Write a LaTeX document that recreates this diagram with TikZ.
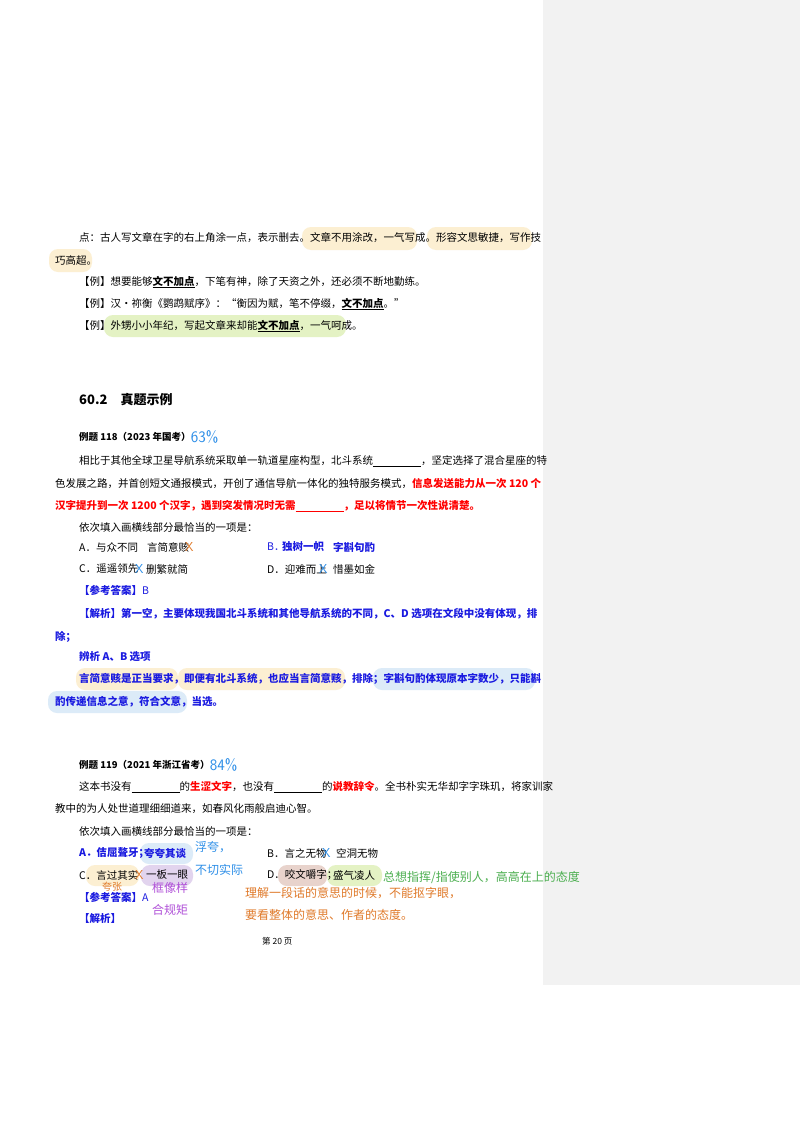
\documentclass[tikz,border=0pt]{standalone}
\usepackage{fontspec}
\setmainfont{Liberation Serif}
\newfontfamily\cjk{Noto Sans CJK SC}
\definecolor{hlorange}{HTML}{FCEFD2}
\definecolor{hlgreen}{HTML}{E4F2C4}
\definecolor{hlblue}{HTML}{DCEBF8}
\definecolor{hlpurple}{HTML}{E2D4EE}
\definecolor{hlbrown}{HTML}{E8D3CC}
\definecolor{ansblue}{HTML}{1A1AE0}
\definecolor{penblue}{HTML}{2E8FE8}
\definecolor{penorange}{HTML}{E07A2A}
\definecolor{pengreen}{HTML}{4CAF50}
\definecolor{penpurple}{HTML}{B050D8}
\definecolor{panel}{HTML}{F2F2F2}
\tikzset{
	line/.style={anchor=west,inner sep=0pt,font=\cjk\fontsize{10.5}{12}\selectfont},
	redline/.style={line,text=red,font=\cjk\bfseries\fontsize{10.5}{12}\selectfont},
	blueline/.style={line,text=ansblue,font=\cjk\bfseries\fontsize{10.5}{12}\selectfont},
	bold line/.style={line,font=\cjk\bfseries\fontsize{10.5}{12}\selectfont},
	hl/.style={fill=#1,rounded corners=9pt},
	pen/.style={anchor=west,inner sep=0pt,text=#1,font=\cjk\fontsize{12}{14}\selectfont},
	mark/.style={anchor=west,inner sep=0pt,text=#1,font=\sffamily\fontsize{13}{14}\selectfont}
}
\newcommand{\blank}{\underline{\hspace{48pt}}}
\begin{document}
\begin{tikzpicture}[x=1pt,y=-1pt]
	\useasboundingbox (0,0) rectangle (800,1132);
	\fill[white] (0,0) rectangle (800,1132);
	\fill[panel] (543,0) rectangle (800,985);
	% highlights
	\fill[hl=hlorange] (302,227) rectangle (417,250);
	\fill[hl=hlorange] (427,227) rectangle (532,250);
	\fill[hl=hlorange] (49,249) rectangle (92,272);
	\fill[hl=hlgreen] (104,315) rectangle (346,337);
	\fill[hl=hlorange] (76,668) rectangle (178,690);
	\fill[hl=hlorange] (178,668) rectangle (345,690);
	\fill[hl=hlblue] (373,668) rectangle (535,690);
	\fill[hl=hlblue] (48,691) rectangle (187,713);
	\fill[hl=hlblue] (140,843) rectangle (193,864);
	\fill[hl=hlorange] (86,865) rectangle (139,886);
	\fill[hl=hlpurple] (141,865) rectangle (193,886);
	\fill[hl=hlbrown] (278,865) rectangle (327,886);
	\fill[hl=hlgreen] (327,865) rectangle (382,886);
	% section one
	\node[line] (p1) at (79,238) {点：古人写文章在字的右上角涂一点，表示删去。文章不用涂改，一气写成。形容文思敏捷，写作技};
	\node[line] (p2) at (55,260) {巧高超。};
	\node[line] (e1) at (79,282) {【例】想要能够\textbf{\underline{文不加点}}，下笔有神，除了天资之外，还必须不断地勤练。};
	\node[line] (e2) at (79,304) {【例】汉·祢衡《鹦鹉赋序》：“衡因为赋，笔不停缀，\textbf{\underline{文不加点}}。”};
	\node[line] (e3) at (79,326) {【例】外甥小小年纪，写起文章来却能\textbf{\underline{文不加点}}，一气呵成。};
	\node[bold line,font=\cjk\bfseries\fontsize{13}{14}\selectfont] (sec) at (79,400) {60.2\quad 真题示例};
	% example 118
	\node[bold line,font=\cjk\bfseries\fontsize{9.5}{11}\selectfont] (q1) at (79,437) {例题 118（2023 年国考）};
	\node[pen=penblue,font=\sffamily\fontsize{16}{16}\selectfont] (r1) at (q1.east) {63\%};
	\node[line] (q1a) at (79,461) {相比于其他全球卫星导航系统采取单一轨道星座构型，北斗系统\blank，坚定选择了混合星座的特};
	\node[line] (q1b) at (55,484) {色发展之路，并首创短文通报模式，开创了通信导航一体化的独特服务模式，\textcolor{red}{\textbf{信息发送能力从一次 120 个}}};
	\node[redline] (q1c) at (55,506) {汉字提升到一次 1200 个汉字，遇到突发情况时无需\blank，足以将情节一次性说清楚。};
	\node[line] (q1d) at (79,528) {依次填入画横线部分最恰当的一项是：};
	\node[line] (oa) at (79,547) {A．与众不同};
	\node[line] (oa2) at (147,547) {言简意赅};
	\node[mark=penorange] (xa) at (185,547) {X};
	\node[line,text=ansblue] (ob) at (267,547) {B．};
	\node[blueline] (ob2) at (282,547) {独树一帜};
	\node[blueline] (ob3) at (333,547) {字斟句酌};
	\node[line] (oc) at (79,569) {C．遥遥领先};
	\node[mark=penblue] (xc) at (135,569) {X};
	\node[line] (oc2) at (146,569) {删繁就简};
	\node[line] (od) at (267,569) {D．迎难而上};
	\node[mark=penblue] (xd) at (319,569) {X};
	\node[line] (od2) at (333,569) {惜墨如金};
	\node[blueline] (a1) at (79,590) {【参考答案】\textmd{B}};
	\node[blueline] (j1) at (79,614) {【解析】第一空，主要体现我国北斗系统和其他导航系统的不同，C、D 选项在文段中没有体现，排};
	\node[blueline] (j1b) at (55,637) {除；};
	\node[blueline] (j1c) at (79,657) {辨析 A、B 选项};
	\node[blueline] (j1d) at (79,679) {言简意赅是正当要求，即便有北斗系统，也应当言简意赅，排除；字斟句酌体现原本字数少，只能斟};
	\node[blueline] (j1e) at (55,702) {酌传递信息之意，符合文意，当选。};
	% example 119
	\node[bold line,font=\cjk\bfseries\fontsize{9.5}{11}\selectfont] (q2) at (79,765) {例题 119（2021 年浙江省考）};
	\node[pen=penblue,font=\sffamily\fontsize{16}{16}\selectfont] (r2) at (q2.east) {84\%};
	\node[line] (q2a) at (79,787) {这本书没有\blank 的\textcolor{red}{\textbf{生涩文字}}，也没有\blank 的\textcolor{red}{\textbf{说教辞令}}。全书朴实无华却字字珠玑，将家训家};
	\node[line] (q2b) at (55,809) {教中的为人处世道理细细道来，如春风化雨般启迪心智。};
	\node[line] (q2c) at (79,831) {依次填入画横线部分最恰当的一项是：};
	\node[blueline] (pa) at (79,853) {A．佶屈聱牙；};
	\node[blueline] (pa2) at (144,853) {夸夸其谈};
	\node[line] (pb) at (267,853) {B．言之无物};
	\node[mark=penblue] (xb) at (322,853) {X};
	\node[line] (pb2) at (336,853) {空洞无物};
	\node[line] (pc) at (79,875) {C．言过其实};
	\node[mark=penorange] (xc2) at (135,875) {X};
	\node[line] (pc2) at (146,875) {一板一眼};
	\node[line] (pd) at (267,875) {D．咬文嚼字；};
	\node[line] (pd2) at (333,875) {盛气凌人};
	\node[blueline] (a2) at (79,897) {【参考答案】\textmd{A}};
	\node[blueline] (j2) at (79,919) {【解析】};
	\node[line,font=\cjk\fontsize{8.5}{9}\selectfont] (pg) at (262,941) {第 20 页};
	% handwriting
	\node[pen=penblue] (h1) at (195,847) {浮夸，};
	\node[pen=penblue] (h2) at (195,870) {不切实际};
	\node[pen=penorange,font=\cjk\fontsize{10}{12}\selectfont] (h3) at (102,887) {夸张};
	\node[pen=penpurple] (h4) at (152,888) {框像样};
	\node[pen=penpurple] (h5) at (152,910) {合规矩};
	\node[pen=pengreen] (h6) at (383,877) {总想指挥/指使别人，高高在上的态度};
	\node[pen=penorange] (h7) at (245,893) {理解一段话的意思的时候，不能抠字眼，};
	\node[pen=penorange] (h8) at (245,915) {要看整体的意思、作者的态度。};
\end{tikzpicture}
\end{document}
